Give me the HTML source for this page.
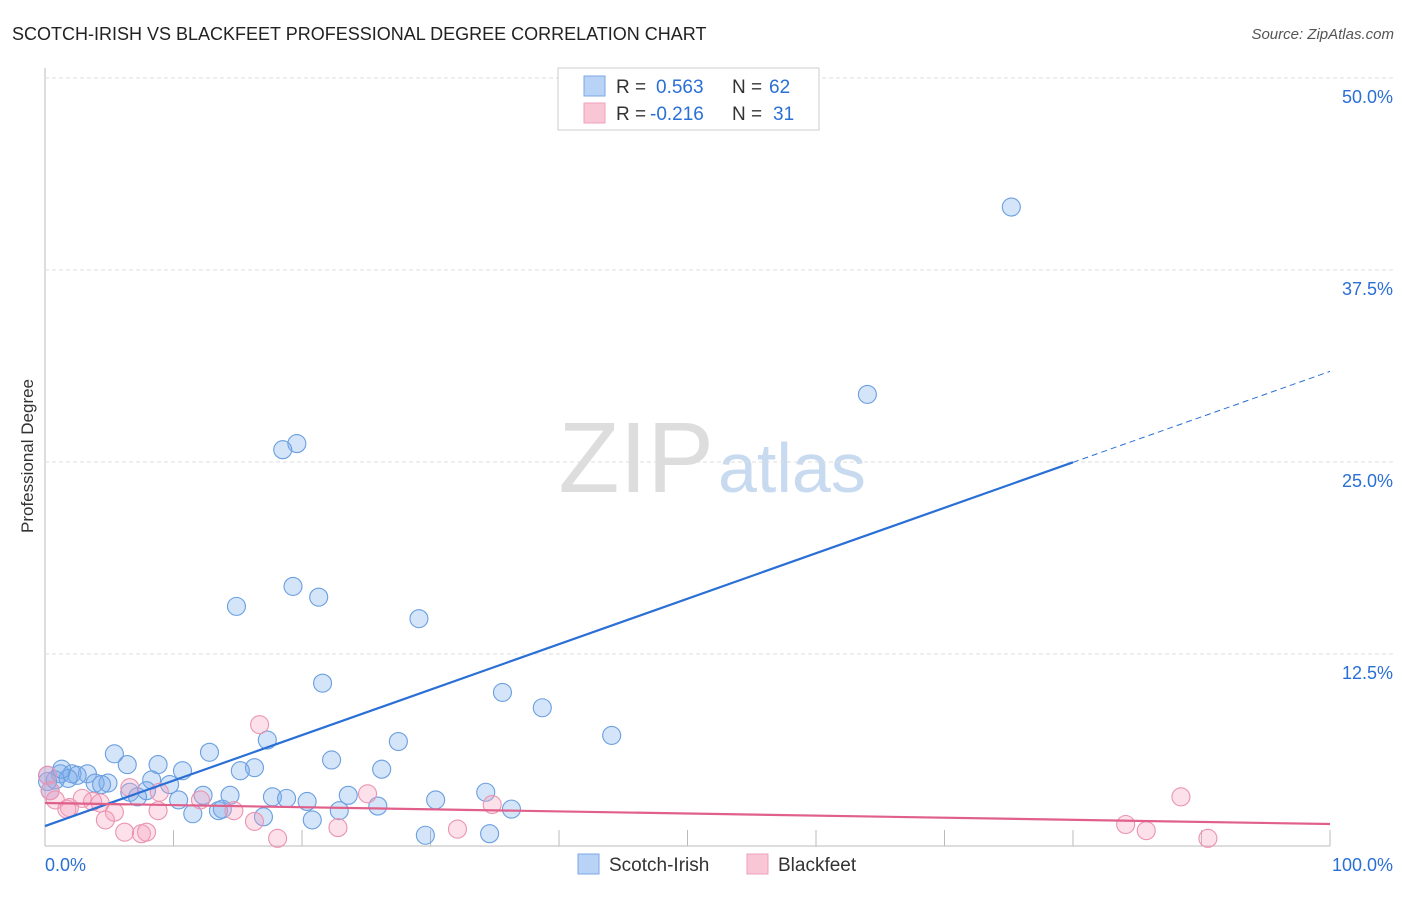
<!DOCTYPE html>
<html><head><meta charset="utf-8"><style>
body{margin:0;background:#fff;font-family:"Liberation Sans",sans-serif}
svg text{font-family:"Liberation Sans",sans-serif}
</style></head><body>
<svg id="c" width="1406" height="892">
<text x="12" y="40" font-size="18" fill="#222">SCOTCH-IRISH VS BLACKFEET PROFESSIONAL DEGREE CORRELATION CHART</text>
<text x="1394" y="39" font-size="15" fill="#555" text-anchor="end" font-style="italic">Source: ZipAtlas.com</text>
<text x="33" y="456" font-size="17" fill="#333" text-anchor="middle" transform="rotate(-90 33 456)">Professional Degree</text>
<text x="714" y="492" font-size="100" fill="#ddd" text-anchor="end" font-family="Liberation Serif">ZIP</text>
<text x="718" y="492" font-size="70" fill="#c8daf0">atlas</text>
<g id="grid"></g><g id="pts"></g><g id="lines"></g>
<g>
<rect x="558" y="68" width="261" height="62" fill="#fff" stroke="#ccc"/>
<rect x="584" y="76" width="21" height="20" fill="#b8d3f5" stroke="#7aaae6"/>
<rect x="584" y="103" width="21" height="20" fill="#f9c6d5" stroke="#eea0b8"/>
<text x="616" y="93" font-size="19" fill="#333">R =</text>
<text x="656" y="93" font-size="19" fill="#2a6fd6">0.563</text>
<text x="732" y="93" font-size="19" fill="#333">N =</text>
<text x="769" y="93" font-size="19" fill="#2a6fd6">62</text>
<text x="616" y="120" font-size="19" fill="#333">R =</text>
<text x="650" y="120" font-size="19" fill="#2a6fd6">-0.216</text>
<text x="732" y="120" font-size="19" fill="#333">N =</text>
<text x="773" y="120" font-size="19" fill="#2a6fd6">31</text>
</g>
<g>
<rect x="578" y="854" width="21" height="20" fill="#b8d3f5" stroke="#7aaae6"/>
<text x="609" y="871" font-size="19" fill="#333">Scotch-Irish</text>
<rect x="747" y="854" width="21" height="20" fill="#f9c6d5" stroke="#eea0b8"/>
<text x="778" y="871" font-size="19" fill="#333">Blackfeet</text>
</g>
</svg>
<script>
const yTicks=[12.5,25,37.5,50];
const yTickLabels=["12.5%","25.0%","37.5%","50.0%"];
const xTickLabels=["0.0%","100.0%"];
const blueX=[75.2,64.0,19.6,18.5,19.3,21.3,14.9,29.1,21.6,35.6,38.7,44.1,17.3,27.5,5.4,12.8,22.3,8.8,6.4,16.3,15.2,26.2,10.7,0.2,1.2,2.1,3.3,2.5,1.8,3.9,4.9,4.4,8.3,9.7,7.9,6.6,7.2,10.4,12.3,14.4,17.7,18.8,20.4,23.6,30.4,34.3,36.3,25.9,22.9,17.0,13.5,11.5,13.8,20.8,29.6,34.6,0.8,0.4,0.2,1.3];
const blueY=[41.6,29.4,26.2,25.8,16.9,16.2,15.6,14.8,10.6,10.0,9.0,7.2,6.9,6.8,6.0,6.1,5.6,5.3,5.3,5.1,4.9,5.0,4.9,4.6,4.7,4.7,4.7,4.6,4.4,4.1,4.1,4.0,4.3,4.0,3.6,3.5,3.2,3.0,3.3,3.3,3.2,3.1,2.9,3.3,3.0,3.5,2.4,2.6,2.3,1.9,2.3,2.1,2.4,1.7,0.7,0.8,4.3,3.6,4.2,5.0];
const pinkX=[16.7,0.2,0.4,0.8,2.9,3.7,1.9,4.3,5.4,4.7,6.6,8.9,12.1,14.7,16.3,18.1,22.8,25.1,32.1,34.8,6.2,7.5,7.9,88.4,84.1,85.7,90.5,1.7,8.8];
const pinkY=[7.9,4.6,3.6,3.0,3.1,2.9,2.5,2.8,2.2,1.7,3.8,3.5,3.0,2.3,1.6,0.5,1.2,3.4,1.1,2.7,0.9,0.8,0.9,3.2,1.4,1.0,0.5,2.4,2.3];
const blueLine=[1.3,30.9];
const pinkLine=[2.8,1.43];
const X=v=>45+v*12.85, Y=v=>846-v*15.36;
const NS="http://www.w3.org/2000/svg";
function mk(t,a,p){const e=document.createElementNS(NS,t);for(const k in a)e.setAttribute(k,a[k]);p.appendChild(e);return e;}
const g=document.getElementById('grid');
mk('line',{x1:45,y1:68,x2:45,y2:846,stroke:'#bbb'},g);
mk('line',{x1:45,y1:846,x2:1330,y2:846,stroke:'#bbb'},g);
yTicks.forEach((t,i)=>{const l=mk('line',{x1:45,y1:Y(t),x2:1393,y2:Y(t),stroke:'#ddd','stroke-dasharray':'4,3'},g);


const tx=mk('text',{x:1393,y:Y(t)+25,'font-size':18,fill:'#2a6fd6','text-anchor':'end'},g);tx.textContent=yTickLabels[i];

});
for(let i=1;i<=10;i++){const l=mk('line',{x1:X(i*10),y1:830,x2:X(i*10),y2:846,stroke:'#bbb'},g);

}
[[0,45,'start'],[100,1393,'end']].forEach((d,i)=>{const t=mk('text',{x:d[1],y:871,'font-size':18,fill:'#2a6fd6','text-anchor':d[2]},g);t.textContent=xTickLabels[i];

});
const p=document.getElementById('pts');
blueX.forEach((x,i)=>{const c=mk('circle',{cx:X(x),cy:Y(blueY[i]),r:9,fill:'rgba(120,170,235,0.32)',stroke:'#6a9fe0','stroke-width':1.1},p);

});
pinkX.forEach((x,i)=>{const c=mk('circle',{cx:X(x),cy:Y(pinkY[i]),r:9,fill:'rgba(245,160,190,0.32)',stroke:'#eb94b0','stroke-width':1.1},p);

});
const L=document.getElementById('lines');
const bAt=v=>blueLine[0]+(blueLine[1]-blueLine[0])*v/100;
let l1=mk('line',{x1:X(0),y1:Y(bAt(0)),x2:X(80),y2:Y(bAt(80)),stroke:'#2a6fd6','stroke-width':2.2},L);


let l2=mk('line',{x1:X(80),y1:Y(bAt(80)),x2:X(100),y2:Y(bAt(100)),stroke:'#2a6fd6','stroke-width':1,'stroke-dasharray':'6,4'},L);


let l3=mk('line',{x1:X(0),y1:Y(pinkLine[0]),x2:X(100),y2:Y(pinkLine[1]),stroke:'#e0608a','stroke-width':2.2},L);


</script>
</body></html>
